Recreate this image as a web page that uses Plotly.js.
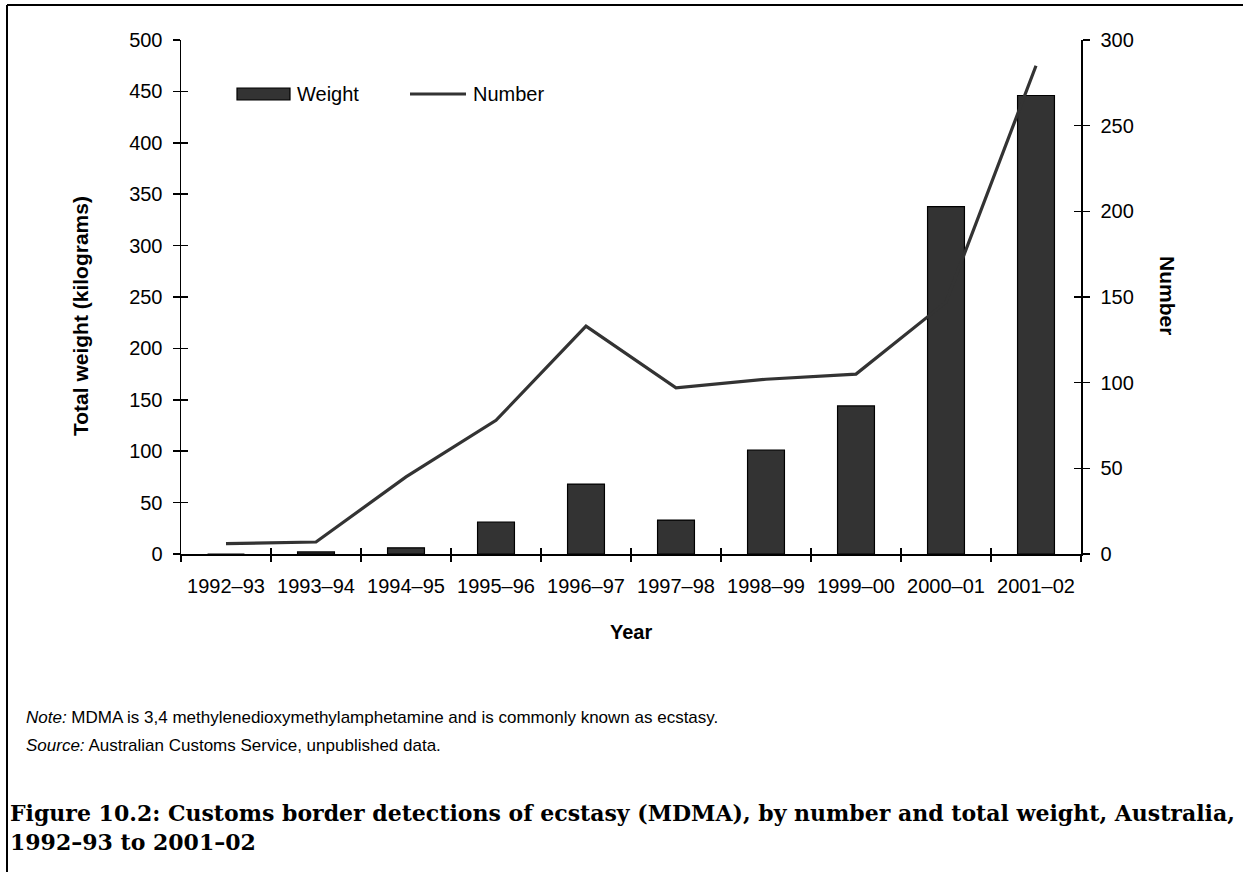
<!DOCTYPE html>
<html><head><meta charset="utf-8">
<script src="https://cdn.plot.ly/plotly-3.0.1.min.js"></script>
<style>body{margin:0;background:#fff}</style>
</head><body><div id="chart" style="width:1243px;height:872px"></div>
<script>
// ---- data ----
const years = ['1992–93','1993–94','1994–95','1995–96','1996–97','1997–98','1998–99','1999–00','2000–01','2001–02'];
const weightKg = [0, 2, 6, 31, 68, 33, 101, 144, 338, 446];
const numberDetections = [6, 7, 45, 78, 133, 97, 102, 105, 147, 285];
const seriesNames = ['Weight', 'Number'];
const noteText = '<i>Note:</i> MDMA is 3,4 methylenedioxymethylamphetamine and is commonly known as ecstasy.';
const sourceText = '<i>Source:</i> Australian Customs Service, unpublished data.';
const captionText = 'Figure 10.2: Customs border detections of ecstasy (MDMA), by number and total weight, Australia,<br>1992–93 to 2001–02';

// ---- layout helpers (pixel -> paper) ----
const L = 181, R = 162, T = 40, B = 318, W = 1243, H = 872;
const PW = W - L - R, PH = H - T - B;
const px = x => (x - L) / PW;
const py = y => (H - B - y) / PH;
const SANS = 'Arial, "Liberation Sans", sans-serif';
const SERIF = '"DejaVu Serif", serif';
const DARK = '#333333';

const ghost = {type:'scatter', mode:'markers', marker:{opacity:0, size:1}, showlegend:false, hoverinfo:'skip'};
const traces = [
  {type:'bar', x: years, y: weightKg, name: seriesNames[0], xaxis:'x', yaxis:'y',
   width: 0.41, marker:{color: DARK, line:{color:'#000', width:1.2}}, showlegend:false, hoverinfo:'x+y'},
  {type:'scatter', mode:'lines', x: years, y: numberDetections, name: seriesNames[1], xaxis:'x', yaxis:'y2',
   line:{color: DARK, width:3.2}, showlegend:false, hoverinfo:'x+y'},
  // invisible helpers so the inner-tick overlay axes are drawn
  Object.assign({}, ghost, {x: years, y: weightKg, xaxis:'x2', yaxis:'y'}),
  Object.assign({}, ghost, {x: years, y: weightKg, xaxis:'x', yaxis:'y3'}),
  Object.assign({}, ghost, {x: years, y: numberDetections, xaxis:'x', yaxis:'y4'})
];

const tickFont = {family: SANS, size: 20, color:'#000'};
const axisCommon = {showgrid:false, zeroline:false, fixedrange:true};

const layout = {
  width: W, height: H,
  margin: {l: L, r: R, t: T, b: B, pad: 0},
  paper_bgcolor:'#fff', plot_bgcolor:'rgba(0,0,0,0)',
  showlegend:false,
  font:{family: SANS, color:'#000'},
  xaxis: Object.assign({}, axisCommon, {type:'category', range:[-0.5, 9.5], tickson:'boundaries',
     ticks:'outside', ticklen:6, tickwidth:1.5, tickcolor:'#000',
     showline:true, linecolor:'#000', linewidth:1.5, tickfont: tickFont, ticklabelstandoff: 13}),
  xaxis2: Object.assign({}, axisCommon, {type:'category', overlaying:'x', anchor:'y', side:'bottom',
     range:[-0.5, 9.5], tickson:'boundaries', ticks:'inside', ticklen:6, tickwidth:1.5,
     tickcolor:'#000', showticklabels:false, showline:false}),
  yaxis: Object.assign({}, axisCommon, {range:[0, 500], dtick:50, ticks:'outside', ticklen:7, tickwidth:1.5,
     tickcolor:'#000', showline:true, linecolor:'#000', linewidth:1.5, tickfont: tickFont, ticklabelstandoff: 6}),
  yaxis3: Object.assign({}, axisCommon, {overlaying:'y', anchor:'x', side:'left', range:[0, 500], dtick:50,
     ticks:'inside', ticklen:7, tickwidth:1.5, tickcolor:'#000', showticklabels:false, showline:false}),
  yaxis2: Object.assign({}, axisCommon, {overlaying:'y', anchor:'x', side:'right', range:[0, 300], dtick:50,
     ticks:'outside', ticklen:7, tickwidth:1.5, tickcolor:'#000', showline:true, linecolor:'#000', linewidth:1.5,
     tickfont: tickFont, ticklabelstandoff: 7}),
  yaxis4: Object.assign({}, axisCommon, {overlaying:'y', anchor:'x', side:'right', range:[0, 300], dtick:50,
     ticks:'inside', ticklen:7, tickwidth:1.5, tickcolor:'#000', showticklabels:false, showline:false}),
  shapes: [
    // frame
    {type:'line', xref:'paper', yref:'paper', x0: px(7), x1: px(1243), y0: py(5), y1: py(5), line:{color:'#000', width:2}},
    {type:'line', xref:'paper', yref:'paper', x0: px(7), x1: px(7), y0: py(5), y1: py(872), line:{color:'#000', width:2}},
    // legend symbols
    {type:'rect', xref:'paper', yref:'paper', x0: px(237), x1: px(290), y0: py(100), y1: py(88), fillcolor: DARK, line:{color:'#000', width:1.2}},
    {type:'line', xref:'paper', yref:'paper', x0: px(410), x1: px(466), y0: py(94), y1: py(94), line:{color: DARK, width:3.2}}
  ],
  annotations: [
    {text: seriesNames[0], xref:'paper', yref:'paper', x: px(295), y: py(94), xanchor:'left', yanchor:'middle', showarrow:false, font:{family:SANS, size:20, color:'#000'}},
    {text: seriesNames[1], xref:'paper', yref:'paper', x: px(471), y: py(94), xanchor:'left', yanchor:'middle', showarrow:false, font:{family:SANS, size:20, color:'#000'}},
    {text: '<b>Total weight (kilograms)</b>', xref:'paper', yref:'paper', x: px(80), y: py(316), textangle:-90, xanchor:'center', yanchor:'middle', showarrow:false, font:{family:SANS, size:21, color:'#000'}},
    {text: '<b>Number</b>', xref:'paper', yref:'paper', x: px(1168), y: py(295), textangle:90, xanchor:'center', yanchor:'middle', showarrow:false, font:{family:SANS, size:21, color:'#000'}},
    {text: '<b>Year</b>', xref:'paper', yref:'paper', x: px(631), y: py(632), xanchor:'center', yanchor:'middle', showarrow:false, font:{family:SANS, size:20, color:'#000'}},
    {text: noteText, xref:'paper', yref:'paper', x: px(24), y: py(717), xanchor:'left', yanchor:'middle', showarrow:false, font:{family:SANS, size:17, color:'#000'}},
    {text: sourceText, xref:'paper', yref:'paper', x: px(24), y: py(745), xanchor:'left', yanchor:'middle', showarrow:false, font:{family:SANS, size:17, color:'#000'}},
    {text: '<b>' + captionText + '</b>', xref:'paper', yref:'paper', x: px(8), y: py(828), xanchor:'left', yanchor:'middle', align:'left', showarrow:false, font:{family:SERIF, size:22, color:'#000'}}
  ]
};

Plotly.newPlot('chart', traces, layout, {displayModeBar:false, staticPlot:true});
</script>
</body></html>
